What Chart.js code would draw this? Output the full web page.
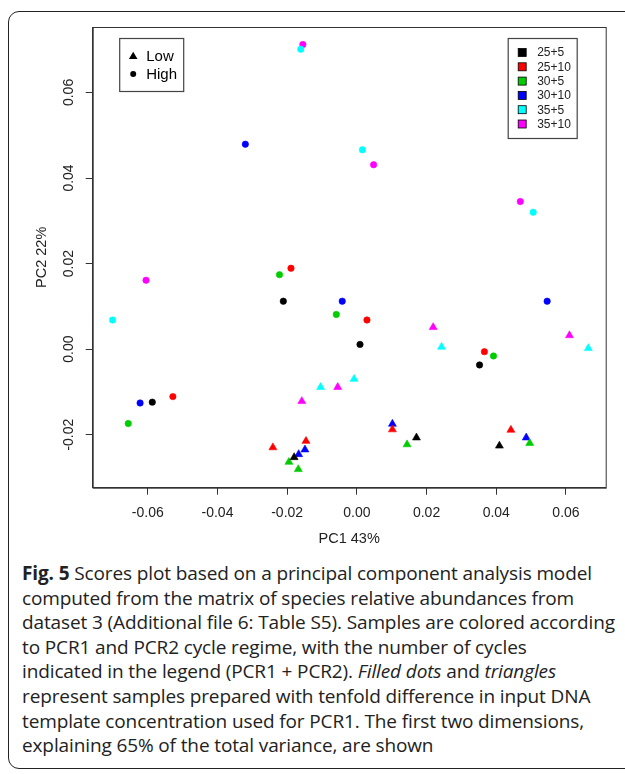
<!DOCTYPE html>
<html>
<head>
<meta charset="utf-8">
<script src="https://cdn.jsdelivr.net/npm/chart.js@4.4.1/dist/chart.umd.min.js"></script>
<style>
  html, body { margin: 0; padding: 0; background: #fff; }
  body { width: 625px; height: 774px; position: relative; overflow: hidden; }
  #frame {
    position: absolute; left: 8px; top: 11px; width: 640px; height: 758px;
    border: 1.5px solid #222; border-radius: 11px; box-sizing: border-box;
  }
  #wrap { position: absolute; left: 0; top: 0; width: 625px; height: 560px; }
  #caption {
    position: absolute; left: 22px; top: 561px; width: 600px;
    font-family: "Open Sans", sans-serif; font-size: 19px; line-height: 24.6px;
    letter-spacing: -0.12px; color: #222; white-space: nowrap;
  }
  #caption b { font-weight: 700; }
</style>
</head>
<body>
<div id="frame"></div>
<div id="wrap"><canvas id="myChart" width="625" height="560"></canvas></div>
<div id="caption">
  <div><b>Fig. 5</b> Scores plot based on a principal component analysis model</div>
  <div>computed from the matrix of species relative abundances from</div>
  <div>dataset 3 (Additional file 6: Table S5). Samples are colored according</div>
  <div>to PCR1 and PCR2 cycle regime, with the number of cycles</div>
  <div>indicated in the legend (PCR1 + PCR2). <i>Filled dots</i> and <i>triangles</i></div>
  <div>represent samples prepared with tenfold difference in input DNA</div>
  <div>template concentration used for PCR1. The first two dimensions,</div>
  <div>explaining 65% of the total variance, are shown</div>
</div>
<script>
const groups = ["25+5", "25+10", "30+5", "30+10", "35+5", "35+10"];
const groupColors = ["#000000", "#ff0000", "#00cd00", "#0000ff", "#00ffff", "#ff00ff"];

// "High" samples (filled dots), one list per group
const highPC1 = [
  [-0.0211, 0.0009, 0.0352, -0.0587],
  [-0.0189, 0.0029, 0.0366, -0.0528],
  [-0.0222, -0.0059, 0.0392, -0.0656],
  [-0.032, -0.0042, 0.0546, -0.0622],
  [-0.0161, 0.0016, 0.0506, -0.0701],
  [-0.0155, 0.0048, 0.0469, -0.0605],
];
const highPC2 = [
  [0.0112, 0.0011, -0.0037, -0.0124],
  [0.0189, 0.0068, -0.0006, -0.0111],
  [0.0174, 0.0081, -0.0016, -0.0174],
  [0.0479, 0.0112, 0.0112, -0.0126],
  [0.0701, 0.0466, 0.032, 0.0068],
  [0.0712, 0.0431, 0.0345, 0.0161],
];

// "Low" samples (triangles)
const lowPC1 = [
  [0.0171, 0.0409, -0.018],
  [0.0102, 0.0442, -0.0241, -0.0146],
  [0.0144, 0.0496, -0.0195, -0.0168],
  [0.0102, 0.0486, -0.0149, -0.0167],
  [0.0243, 0.0664, -0.0104, -0.0008],
  [0.0219, 0.061, -0.0055, -0.0158],
];
const lowPC2 = [
  [-0.0207, -0.0226, -0.0253],
  [-0.0188, -0.0189, -0.023, -0.0215],
  [-0.0223, -0.022, -0.0264, -0.0281],
  [-0.0175, -0.0207, -0.0235, -0.0246],
  [0.0005, 0.0002, -0.0089, -0.007],
  [0.0051, 0.0032, -0.0089, -0.0122],
];

const xTicks = [-0.06, -0.04, -0.02, 0.0, 0.02, 0.04, 0.06];
const yTicks = [-0.02, 0.0, 0.02, 0.04, 0.06];
const xLimits = [-0.0758, 0.0714];
const yLimits = [-0.0324, 0.0753];
const xTitle = "PC1 43%";
const yTitle = "PC2 22%";
const shapeLabels = ["Low", "High"];

const axisFont = '"Liberation Sans", Arial, sans-serif';
const axisColor = "#333";

const toPoints = (xs, ys) => xs.map((x, i) => ({ x: x, y: ys[i] }));

const datasets = [];
groups.forEach((g, i) => {
  datasets.push({
    label: g + " High",
    data: toPoints(highPC1[i], highPC2[i]),
    pointStyle: "circle",
    pointRadius: 3.2,
    backgroundColor: groupColors[i],
    borderColor: groupColors[i],
    borderWidth: 0.6,
  });
  datasets.push({
    label: g + " Low",
    data: toPoints(lowPC1[i], lowPC2[i]),
    pointStyle: "triangle",
    pointRadius: 4.6,
    backgroundColor: groupColors[i],
    borderColor: groupColors[i],
    borderWidth: 0.6,
  });
});

// box, rotated y labels, axis titles and the two legends, R style
const rPlotExtras = {
  id: "rPlotExtras",
  afterDraw(chart) {
    const { ctx, chartArea: a, scales } = chart;
    ctx.save();
    ctx.strokeStyle = axisColor;
    ctx.lineWidth = 1;
    ctx.strokeRect(a.left + 0.5, a.top + 0.5, a.right - a.left, a.bottom - a.top);

    ctx.fillStyle = "#222";
    ctx.font = "14px " + axisFont;
    ctx.textAlign = "center";
    ctx.textBaseline = "middle";
    yTicks.forEach((v) => {
      const py = scales.y.getPixelForValue(v);
      ctx.save();
      ctx.translate(a.left - 24, py);
      ctx.rotate(-Math.PI / 2);
      ctx.fillText(v.toFixed(2), 0, 0);
      ctx.restore();
    });

    ctx.font = "14.5px " + axisFont;
    ctx.fillText(xTitle, (a.left + a.right) / 2, a.bottom + 51);
    ctx.save();
    ctx.translate(a.left - 51, (a.top + a.bottom) / 2);
    ctx.rotate(-Math.PI / 2);
    ctx.fillText(yTitle, 0, 0);
    ctx.restore();

    // shape legend (top left)
    const sx = a.left + 26.5, sy = a.top + 11;
    ctx.fillStyle = "#fff";
    ctx.fillRect(sx, sy, 64, 53);
    ctx.strokeStyle = "#444";
    ctx.lineWidth = 1.2;
    ctx.strokeRect(sx + 0.5, sy + 0.5, 64, 53);
    ctx.fillStyle = "#000";
    const tx = sx + 14, t1 = sy + 18, t2 = sy + 36;
    ctx.beginPath();
    ctx.moveTo(tx, t1 - 4.3);
    ctx.lineTo(tx + 4.3, t1 + 3);
    ctx.lineTo(tx - 4.3, t1 + 3);
    ctx.closePath();
    ctx.fill();
    ctx.beginPath();
    ctx.arc(tx, t2, 3, 0, Math.PI * 2);
    ctx.fill();
    ctx.font = "15px " + axisFont;
    ctx.textAlign = "left";
    ctx.fillText(shapeLabels[0], sx + 27, t1 + 0.5);
    ctx.fillText(shapeLabels[1], sx + 27, t2 + 0.5);

    // group legend (top right)
    const lx = a.left + 415, ly = a.top + 11;
    ctx.fillStyle = "#fff";
    ctx.fillRect(lx, ly, 69, 100);
    ctx.strokeStyle = "#444";
    ctx.strokeRect(lx + 0.5, ly + 0.5, 69, 100);
    ctx.font = "12px " + axisFont;
    groups.forEach((g, i) => {
      const ry = ly + 14.5 + i * 14.3;
      ctx.fillStyle = groupColors[i];
      ctx.fillRect(lx + 10.5, ry - 4, 8, 8);
      ctx.strokeStyle = "#000";
      ctx.lineWidth = 0.8;
      ctx.strokeRect(lx + 10.5, ry - 4, 8, 8);
      ctx.fillStyle = "#222";
      ctx.fillText(g, lx + 29.5, ry + 0.5);
    });
    ctx.restore();
  },
};

const scatterConfig = {
  type: "scatter",
  data: { datasets: datasets },
  plugins: [rPlotExtras],
  options: {
    responsive: false,
    animation: false,
    layout: { padding: { left: 0, top: 27, right: 19.3, bottom: 0 } },
    plugins: {
      legend: { display: false },
      tooltip: { enabled: false },
    },
    scales: {
      x: {
        type: "linear",
        min: xLimits[0],
        max: xLimits[1],
        afterBuildTicks: (scale) => {
          scale.ticks = xTicks.map((v) => ({ value: v }));
        },
        afterFit: (scale) => {
          scale.height = 560 - 487.7;
        },
        grid: { drawOnChartArea: false, drawTicks: true, tickLength: 7, color: axisColor, tickColor: axisColor },
        border: { display: true, color: axisColor, width: 1 },
        ticks: {
          padding: 10,
          color: "#222",
          font: { family: axisFont, size: 14 },
          callback: (v) => Number(v).toFixed(2),
          maxRotation: 0,
          autoSkip: false,
        },
      },
      y: {
        type: "linear",
        min: yLimits[0],
        max: yLimits[1],
        afterBuildTicks: (scale) => {
          scale.ticks = yTicks.map((v) => ({ value: v }));
        },
        afterFit: (scale) => {
          scale.width = 92.7;
        },
        grid: { drawOnChartArea: false, drawTicks: true, tickLength: 7, color: axisColor, tickColor: axisColor },
        border: { display: true, color: axisColor, width: 1 },
        ticks: { display: false },
      },
    },
  },
};

const ctx = document.querySelector("canvas#myChart").getContext("2d");
const myChart = new Chart(ctx, scatterConfig);
</script>
</body>
</html>
